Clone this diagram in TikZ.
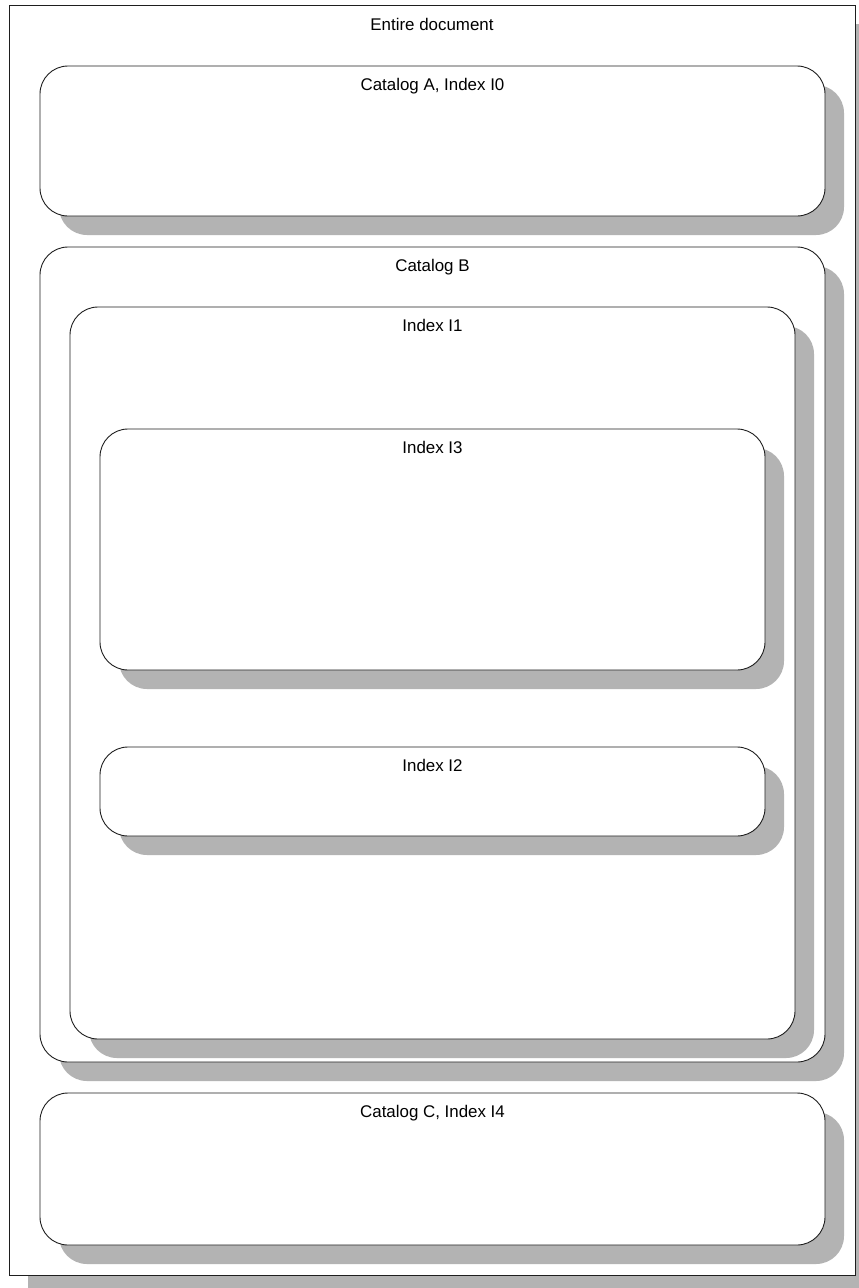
\documentclass[tikz,border=0pt]{standalone}
\usepackage{fontspec}
\setmainfont{Liberation Sans}
\usetikzlibrary{shadows}
\definecolor{shadowgray}{RGB}{179,179,179}
\definecolor{linegray}{RGB}{30,30,30}
\tikzset{
  box/.style={draw=linegray, line width=0.9pt, fill=white, inner sep=0pt, outer sep=0pt,
    drop shadow={shadow xshift=19pt, shadow yshift=-19pt, fill=shadowgray, opacity=1}},
  rbox/.style={box, rounded corners=28pt},
  lab/.style={anchor=base, inner sep=0pt, font=\fontsize{16.9}{20}\selectfont}
}
\begin{document}
\begin{tikzpicture}[x=1pt,y=-1pt]
\useasboundingbox (0,0) rectangle (859,1288);
% outer
\node[box, minimum width=846pt, minimum height=1270pt] (doc) at (432,640) {};
\node[lab] (docl) at ([yshift=-25pt]doc.north) {Entire document};
% Catalog A
\node[rbox, minimum width=785pt, minimum height=150pt] (catA) at (432.5,141) {};
\node[lab] (catAl) at ([yshift=-24pt]catA.north) {Catalog A, Index I0};
% Catalog B
\node[rbox, minimum width=785pt, minimum height=815pt] (catB) at (432.5,654.5) {};
\node[lab] (catBl) at ([yshift=-24pt]catB.north) {Catalog B};
% Index I1
\node[rbox, minimum width=725pt, minimum height=732pt] (iI1) at (432.5,673) {};
\node[lab] (iI1l) at ([yshift=-24pt]iI1.north) {Index I1};
% Index I3
\node[rbox, minimum width=665pt, minimum height=241pt] (iI3) at (432.5,549.5) {};
\node[lab] (iI3l) at ([yshift=-24pt]iI3.north) {Index I3};
% Index I2
\node[rbox, minimum width=665pt, minimum height=89pt] (iI2) at (432.5,791.5) {};
\node[lab] (iI2l) at ([yshift=-24pt]iI2.north) {Index I2};
% Catalog C
\node[rbox, minimum width=785pt, minimum height=152pt] (catC) at (432.5,1169) {};
\node[lab] (catCl) at ([yshift=-24pt]catC.north) {Catalog C, Index I4};
\end{tikzpicture}
\end{document}
